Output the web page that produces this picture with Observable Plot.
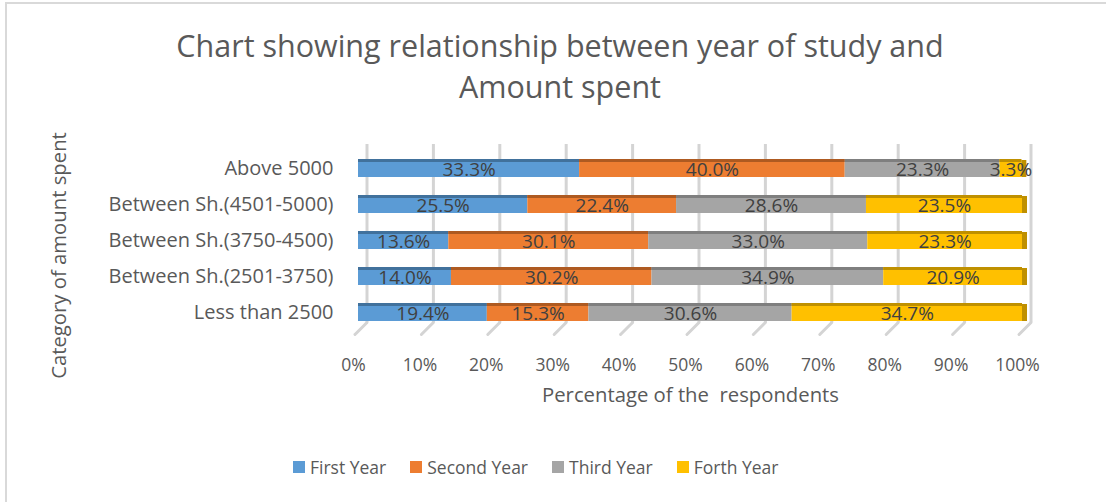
<!DOCTYPE html>
<html>
<head>
<meta charset="utf-8">
<script src="https://cdn.jsdelivr.net/npm/d3@7"></script>
<script src="https://cdn.jsdelivr.net/npm/@observablehq/plot@0.6"></script>
<style>
  html, body { margin: 0; padding: 0; background: #fff; overflow: hidden; width: 1106px; height: 502px; }
  body { position: relative; font-family: "Open Sans", sans-serif; color: #595959; }
  #frame { position: absolute; left: 5px; top: 2px; width: 1200px; height: 600px; border: 2px solid #d9d9d9; box-sizing: border-box; }
  #title { position: absolute; left: 0; top: 25px; width: 1106px; padding-left: 14px; box-sizing: border-box; text-align: center; font-size: 30.5px; line-height: 41px; color: #595959; }
  #chart { position: absolute; left: 0; top: 108px; }
  #legend { position: absolute; left: 293px; top: 455px; display: flex; align-items: center; font-size: 17.5px; color: #595959; white-space: nowrap; }
  #legend .item { display: flex; align-items: center; margin-right: 24px; }
  #legend .sw { width: 12px; height: 12px; margin-right: 5px; }
</style>
</head>
<body>
<div id="frame"></div>
<div id="title">Chart showing relationship between year of study and<br>Amount spent</div>
<div id="chart"></div>
<div id="legend"></div>
<script>
// ---- data ----
const categories = ["Above 5000", "Between Sh.(4501-5000)", "Between Sh.(3750-4500)", "Between Sh.(2501-3750)", "Less than 2500"];
const series = ["First Year", "Second Year", "Third Year", "Forth Year"];
const firstYear  = [33.3, 25.5, 13.6, 14.0, 19.4];
const secondYear = [40.0, 22.4, 30.1, 30.2, 15.3];
const thirdYear  = [23.3, 28.6, 33.0, 34.9, 30.6];
const forthYear  = [3.3, 23.5, 23.3, 20.9, 34.7];
const xTicks = [0, 10, 20, 30, 40, 50, 60, 70, 80, 90, 100];

const colors = ["#5B9BD5", "#ED7D31", "#A5A5A5", "#FFC000"];
const darkColors = ["#41719C", "#AE5A21", "#7F7F7F", "#BF9000"];

const seriesValues = [firstYear, secondYear, thirdYear, forthYear];
const data = [];
categories.forEach((c, i) => {
  series.forEach((s, j) => data.push({category: c, series: s, value: seriesValues[j][i]}));
});
const totals = categories.map((c, i) => ({category: c, total: seriesValues.reduce((a, arr) => a + arr[i], 0)}));

const lastCat = categories[categories.length - 1];
const spikeShape = {draw(context, l) { context.moveTo(0, 0); context.lineTo(0, -l); }};

const stackOpts = {x: "value", y: "category", z: "series", order: series};

const plot = Plot.plot({
  width: 1106,
  height: 312,
  marginLeft: 358,
  marginRight: 84,
  marginTop: 33,
  marginBottom: 81,
  style: {fontFamily: "Open Sans, sans-serif", color: "#595959", background: "transparent"},
  x: {domain: [0, 100]},
  y: {domain: categories, padding: 0.5},
  color: {domain: series, range: colors},
  marks: [
    // back-wall gridlines
    Plot.ruleX(xTicks, {x: d => d, stroke: "#d4d4d4", strokeWidth: 3, dx: 8.5, insetTop: 3, insetBottom: 17}),
    // floor ticks
    Plot.vector(xTicks, {x: d => d, y: () => lastCat, dx: 8.5, dy: 10, length: 17, rotate: 225, anchor: "start", shape: spikeShape, stroke: "#d4d4d4", strokeWidth: 3}),
    // bars (front face)
    Plot.barX(data, Plot.stackX({...stackOpts, fill: "series"})),
    // top bevel
    Plot.barX(data, Plot.stackX({...stackOpts, fill: d => darkColors[series.indexOf(d.series)], insetBottom: 15})),
    // right side face
    Plot.barX(totals, {x1: "total", x2: "total", y: "category", insetRight: -5, fill: darkColors[3], insetTop: 1}),
    // data labels
    Plot.text(data, Plot.stackX({...stackOpts, text: d => d.value.toFixed(1) + "%", fill: "#404040", fontSize: 19, dy: 1})),
    Plot.axisX({ticks: xTicks, tickFormat: d => d + "%", tickSize: 0, tickPadding: 19, fontSize: 17.5, dx: -5, label: null, color: "#595959"}),
    Plot.axisY({tickSize: 0, tickPadding: 25, fontSize: 20, label: null, color: "#595959"}),
    // axis titles
    Plot.text(["Percentage of the  respondents"], {frameAnchor: "bottom", text: d => d, dy: 62, fontSize: 20.3, fill: "#595959"}),
    Plot.text(["Category of amount spent"], {frameAnchor: "left", text: d => d, rotate: -90, textAnchor: "middle", dx: -299, dy: 15, fontSize: 20.3, fill: "#595959"})
  ]
});
document.getElementById("chart").appendChild(plot);

const legend = document.getElementById("legend");
series.forEach((s, i) => {
  const item = document.createElement("div");
  item.className = "item";
  const sw = document.createElement("div");
  sw.className = "sw";
  sw.style.background = colors[i];
  const t = document.createElement("span");
  t.textContent = s;
  item.appendChild(sw);
  item.appendChild(t);
  legend.appendChild(item);
});
</script>
</body>
</html>
